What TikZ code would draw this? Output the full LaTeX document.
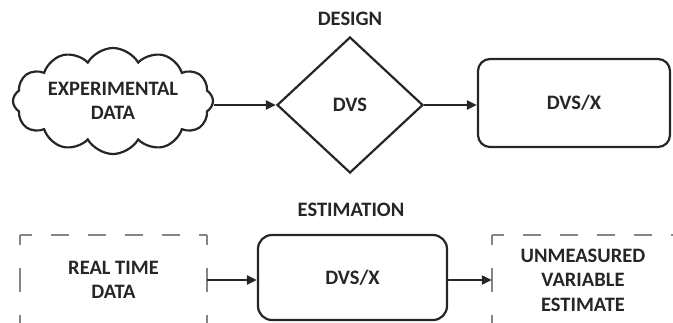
\documentclass[tikz,border=0pt]{standalone}
\usepackage{fontspec}
\setmainfont{Carlito}
\usetikzlibrary{shapes.geometric,shapes.symbols,arrows.meta}
\definecolor{ink}{HTML}{262626}
\definecolor{dashgray}{HTML}{858585}
\begin{document}
\begin{tikzpicture}[x=1pt,y=-1pt,
  lbl/.style={font=\bfseries\fontsize{20.5}{24.5}\selectfont, align=center, text=ink},
  solidbox/.style={draw=ink, line width=2.2pt, rounded corners=12pt, inner sep=0pt},
  dashside/.style={draw=dashgray, line width=2pt, dash pattern=on 24pt off 23pt, dash phase=14pt},
  dashtop/.style={draw=dashgray, line width=2pt, dash pattern=on 18pt off 19pt, dash phase=6pt},
  arr/.style={draw=ink, line width=2.2pt, -{Triangle[length=10pt,width=9pt]}},
]
\useasboundingbox (0,0) rectangle (673,322);
\clip (0,0) rectangle (673,322);

% design row
\node[lbl] (design) at (350,19) {DESIGN};
\node[cloud, draw=ink, line width=2.2pt, cloud puffs=12, cloud puff arc=120,
      cloud ignores aspect, minimum width=200pt, minimum height=106pt,
      inner sep=0pt, lbl] (exp) at (113,101) {EXPERIMENTAL\\DATA};
\node[diamond, draw=ink, line width=2.2pt, minimum width=146pt, minimum height=136pt,
      inner sep=0pt, lbl] (dvs) at (350,105) {DVS};
\node[solidbox, minimum width=192pt, minimum height=88pt, lbl] (dvsx) at (574,103) {DVS/X};

\draw[arr] (exp.east |- dvs.west) -- (dvs.west);
\draw[arr] (dvs.east) -- (dvs.east -| dvsx.west);

% estimation row
\node[lbl] (estimation) at (351,210) {ESTIMATION};
\node[minimum width=187pt, minimum height=90pt, inner sep=0pt, lbl] (rt) at (113.5,280) {REAL TIME\\DATA};
\draw[dashtop] (rt.north west) -- (rt.north east);
\draw[dashside] (rt.north west) -- (rt.south west);
\draw[dashside] (rt.north east) -- (rt.south east);

\node[solidbox, rounded corners=14pt, minimum width=189pt, minimum height=85pt, lbl] (est) at (352.5,277.5) {DVS/X};

\node[minimum width=182pt, minimum height=90pt, inner sep=0pt, lbl] (um) at (583,280) {UNMEASURED\\VARIABLE\\ESTIMATE};
\draw[dashtop] (um.north west) -- (um.north east);
\draw[dashside] (um.north west) -- (um.south west);
\draw[dashside] (um.north east) -- (um.south east);

\draw[arr] (rt.east) -- (rt.east -| est.west);
\draw[arr] (est.east |- um.west) -- (um.west);
\end{tikzpicture}
\end{document}
